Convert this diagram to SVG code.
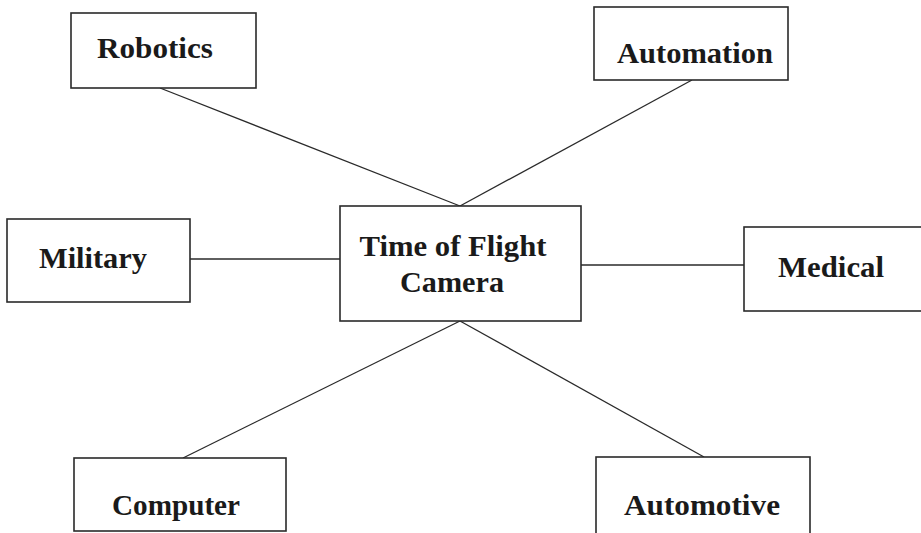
<svg xmlns="http://www.w3.org/2000/svg" width="921" height="533" viewBox="0 0 921 533">
  <style>
    .box { fill: #ffffff; stroke: #2a2a2a; stroke-width: 1.6; }
    .link { stroke: #2a2a2a; stroke-width: 1.3; fill: none; }
    .label { font-family: "Liberation Serif", "Times New Roman", serif; font-weight: bold; font-size: 29px; fill: #1a1a1a; text-anchor: middle; }
  </style>
  <rect width="921" height="533" fill="#ffffff"/>

  <g id="connectors">
    <line class="link" x1="160" y1="88" x2="460" y2="206"/>
    <line class="link" x1="692" y1="80" x2="460" y2="206"/>
    <line class="link" x1="190" y1="259" x2="340" y2="259"/>
    <line class="link" x1="581" y1="265" x2="744" y2="265"/>
    <line class="link" x1="460" y1="321" x2="183" y2="458"/>
    <line class="link" x1="460" y1="321" x2="704" y2="457"/>
  </g>

  <g id="robotics">
    <rect class="box" x="71" y="13" width="185" height="75"/>
    <text class="label" x="155" y="58" textLength="116" lengthAdjust="spacingAndGlyphs">Robotics</text>
  </g>
  <g id="automation">
    <rect class="box" x="594" y="7" width="194" height="73"/>
    <text class="label" x="695" y="63" textLength="156" lengthAdjust="spacingAndGlyphs">Automation</text>
  </g>
  <g id="tof-camera">
    <rect class="box" x="340" y="206" width="241" height="115"/>
    <text class="label" x="453" y="256" textLength="187" lengthAdjust="spacingAndGlyphs">Time of Flight</text>
    <text class="label" x="452" y="292" textLength="104" lengthAdjust="spacingAndGlyphs">Camera</text>
  </g>
  <g id="military">
    <rect class="box" x="7" y="219" width="183" height="83"/>
    <text class="label" x="93" y="268" textLength="108" lengthAdjust="spacingAndGlyphs">Military</text>
  </g>
  <g id="medical">
    <rect class="box" x="744" y="227" width="180" height="84"/>
    <text class="label" x="831" y="277" textLength="106" lengthAdjust="spacingAndGlyphs">Medical</text>
  </g>
  <g id="computer">
    <rect class="box" x="74" y="458" width="212" height="73"/>
    <text class="label" x="176" y="515" textLength="128" lengthAdjust="spacingAndGlyphs">Computer</text>
  </g>
  <g id="automotive">
    <rect class="box" x="596" y="457" width="214" height="80"/>
    <text class="label" x="702" y="515" textLength="156" lengthAdjust="spacingAndGlyphs">Automotive</text>
  </g>
</svg>
